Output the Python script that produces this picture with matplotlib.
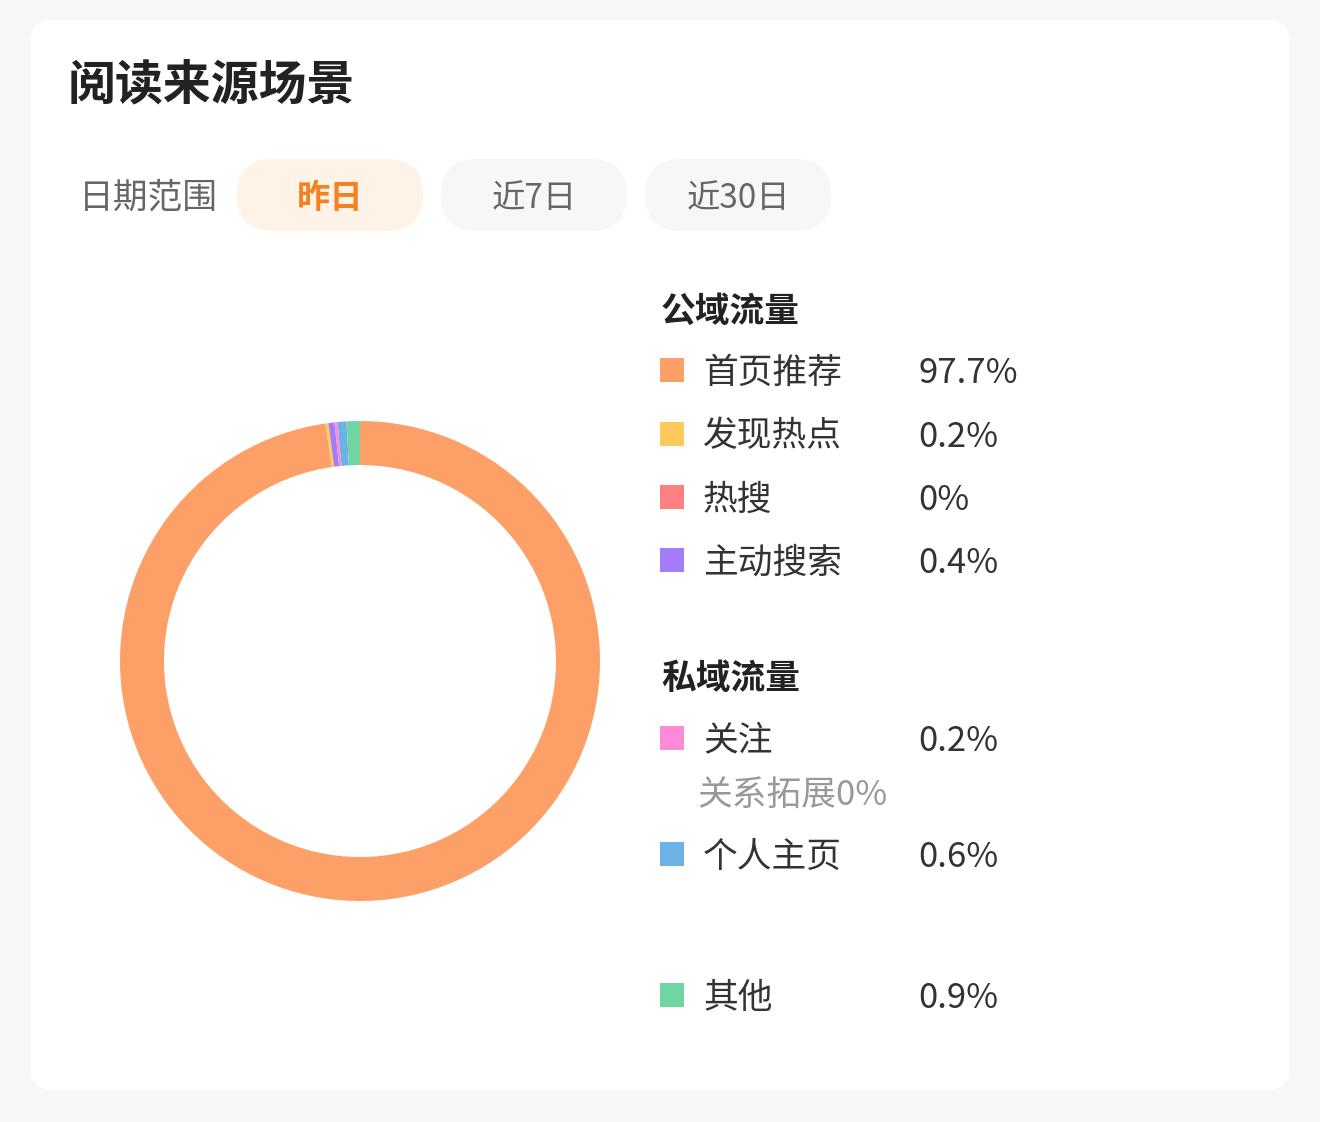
import matplotlib
matplotlib.use("Agg")
import matplotlib.pyplot as plt
from matplotlib.patches import FancyBboxPatch, Rectangle

plt.rcParams['font.family'] = ['Noto Sans CJK SC', 'DejaVu Sans']

# data
title = "阅读来源场景"
range_label = "日期范围"
range_options = ["昨日", "近7日", "近30日"]
public_title = "公域流量"
private_title = "私域流量"
public_names = ["首页推荐", "发现热点", "热搜", "主动搜索"]
public_values = [97.7, 0.2, 0.0, 0.4]
private_names = ["关注", "个人主页"]
private_values = [0.2, 0.6]
follow_sub = "关系拓展0%"
other_name = "其他"
other_value = 0.9

public_colors = ["#FDA068", "#FFC85C", "#FF8080", "#A57CF8"]
private_colors = ["#FF8AD6", "#6CB2E6"]
other_color = "#6FD6A2"

W, H = 1320, 1122
DY = 3  # nudge text down to match glyph centres
fig = plt.figure(figsize=(W / 100, H / 100), dpi=100)
fig.patch.set_facecolor("#F7F7F7")

ax = fig.add_axes([0, 0, 1, 1])
ax.set_xlim(0, W)
ax.set_ylim(H, 0)
ax.axis("off")

# card
ax.add_patch(FancyBboxPatch((30, 20), 1260, 1070, boxstyle="round,pad=0,rounding_size=22",
                            fc="white", ec="none"))
ax.text(68, 82 + DY, title, fontsize=34.5, fontweight="bold", color="#222222", va="center", ha="left")

# date range pills
ax.text(79, 195 + DY, range_label, fontsize=25, color="#666666", va="center", ha="left")
pill_x = [237, 441, 645]
for i, (x, lab) in enumerate(zip(pill_x, range_options)):
    active = i == 0
    ax.add_patch(FancyBboxPatch((x, 159), 186, 72, boxstyle="round,pad=0,rounding_size=36",
                                fc="#FFF3E8" if active else "#F7F7F7", ec="none"))
    ax.text(x + 93, 195 + DY, lab, fontsize=24, va="center", ha="center",
            color="#F5821F" if active else "#666666",
            fontweight="bold" if active else "normal")

# donut
pie_ax = fig.add_axes([120 / W, 1 - 901 / H, 480 / W, 480 / H])
values = public_values + private_values + [other_value]
colors = public_colors + private_colors + [other_color]
pie_ax.pie(values, colors=colors, startangle=90, counterclock=False, radius=1.0,
           wedgeprops=dict(width=44 / 240, edgecolor="none"))
pie_ax.set_xlim(-1, 1)
pie_ax.set_ylim(-1, 1)
pie_ax.axis("off")

# legend
def legend_row(y, name, value, color):
    ax.add_patch(Rectangle((660, y - 12), 24, 24, fc=color, ec="none"))
    ax.text(703, y + DY, name, fontsize=25, color="#333333", va="center", ha="left")
    ax.text(918, y + DY, f"{value:g}%", fontsize=25, color="#333333", va="center", ha="left")

ax.text(661, 308 + DY, public_title, fontsize=25, fontweight="bold", color="#222222", va="center")
for y, n, v, c in zip([370, 434, 497, 560], public_names, public_values, public_colors):
    legend_row(y, n, v, c)

ax.text(661, 675 + DY, private_title, fontsize=25, fontweight="bold", color="#222222", va="center")
for y, n, v, c in zip([738, 854], private_names, private_values, private_colors):
    legend_row(y, n, v, c)
ax.text(697, 792 + DY, follow_sub, fontsize=25, color="#999999", va="center", ha="left")

legend_row(995, other_name, other_value, other_color)

fig.savefig("out.png", dpi=100, facecolor=fig.get_facecolor())
